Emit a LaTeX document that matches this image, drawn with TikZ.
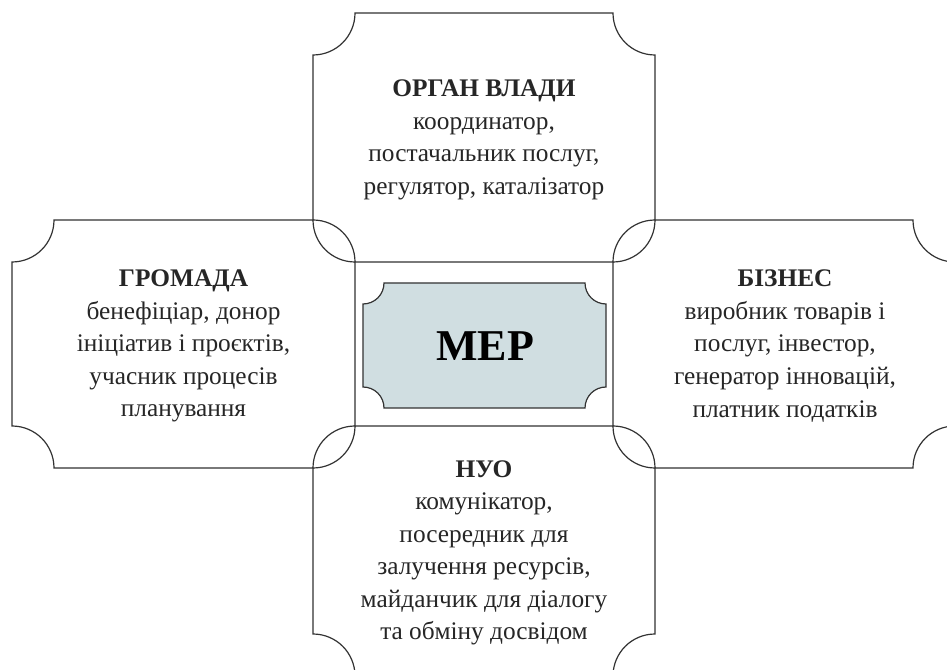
\documentclass[tikz,border=0pt]{standalone}
\usepackage{fontspec}
\setmainfont{Liberation Serif}
\definecolor{mepfill}{RGB}{208,222,225}
\definecolor{edge}{RGB}{50,50,50}
\newcommand{\nbox}[6]{%
\path[#1] ({#2+#6},#3) -- ({#4-#6},#3)
 .. controls ({#4-#6},{#3+0.5523*#6}) and ({#4-0.5523*#6},{#3+#6}) .. (#4,{#3+#6})
 -- (#4,{#5-#6})
 .. controls ({#4-0.5523*#6},{#5-#6}) and ({#4-#6},{#5-0.5523*#6}) .. ({#4-#6},#5)
 -- ({#2+#6},#5)
 .. controls ({#2+#6},{#5-0.5523*#6}) and ({#2+0.5523*#6},{#5-#6}) .. (#2,{#5-#6})
 -- (#2,{#3+#6})
 .. controls ({#2+0.5523*#6},{#3+#6}) and ({#2+#6},{#3+0.5523*#6}) .. ({#2+#6},#3) -- cycle;}
\tikzset{
  frame/.style={draw=edge, line width=0.9pt, line join=miter},
  mepbox/.style={draw=edge, line width=0.9pt, fill=mepfill},
  roletext/.style={align=center, font=\fontsize{19}{24.4}\selectfont, text=black!85, inner sep=0pt},
  meptext/.style={font=\fontsize{33}{36}\selectfont\bfseries, inner sep=0pt}
}
\begin{document}
\begin{tikzpicture}[x=0.75pt, y=-0.75pt]
\useasboundingbox (0,0) rectangle (947,670);
\clip (0,0) rectangle (947,670);
\fill[white] (0,0) rectangle (947,670);
% four role frames
\nbox{frame}{313}{13}{655}{262}{42}
\nbox{frame}{12}{220}{355}{468}{42}
\nbox{frame}{613}{220}{955}{468}{42}
\nbox{frame}{313}{426}{655}{676}{42}
% centre
\nbox{mepbox}{363}{283}{606}{408}{21}
\node[meptext] (mep) at (485,346) {МЕР};
\node[roletext] (vlada) at (484,140) {\textbf{ОРГАН ВЛАДИ}\\координатор,\\постачальник послуг,\\регулятор, каталізатор};
\node[roletext] (hromada) at (183.5,346) {\textbf{ГРОМАДА}\\бенефіціар, донор\\ініціатив і проєктів,\\учасник процесів\\планування};
\node[roletext] (biznes) at (785,346) {\textbf{БІЗНЕС}\\виробник товарів і\\послуг, інвестор,\\генератор інновацій,\\платник податків};
\node[roletext] (nuo) at (484,553) {\textbf{НУО}\\комунікатор,\\посередник для\\залучення ресурсів,\\майданчик для діалогу\\та обміну досвідом};
\end{tikzpicture}
\end{document}
